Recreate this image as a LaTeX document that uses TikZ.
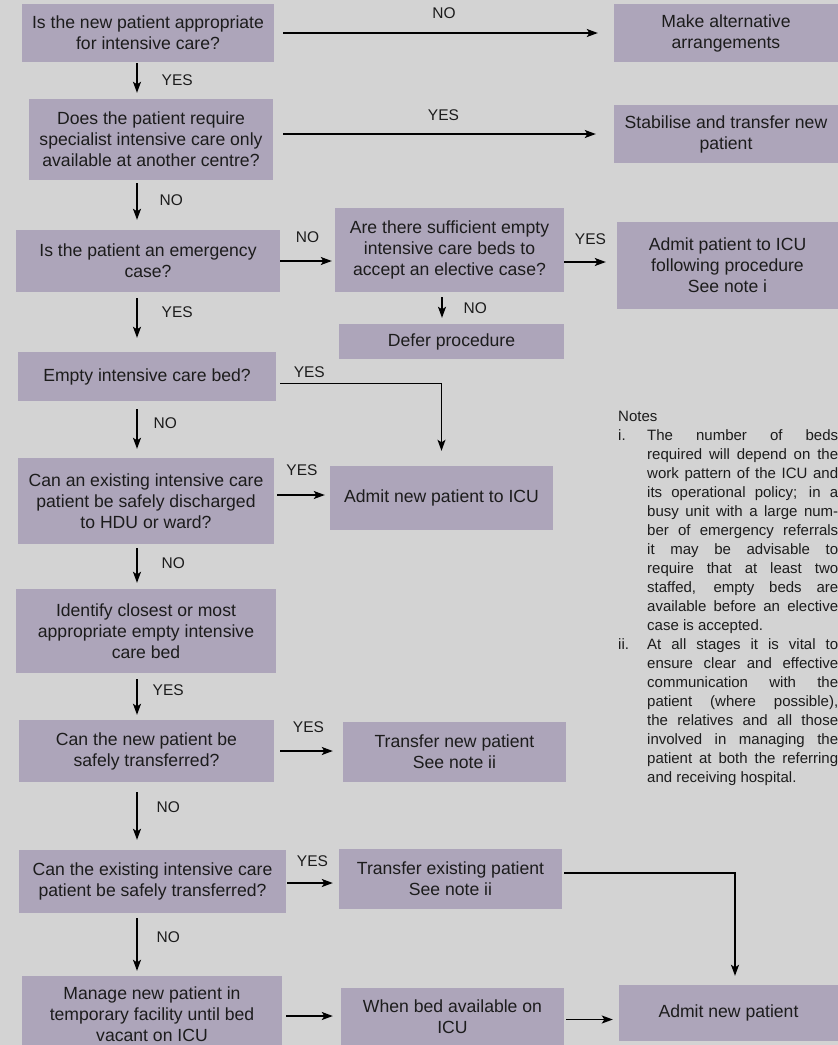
\documentclass[tikz,border=0pt]{standalone}
\usepackage{fontspec}
\setmainfont{Liberation Sans}
\usepackage{tikz}
\usetikzlibrary{arrows.meta, positioning, calc}
\definecolor{boxlilac}{RGB}{173, 165, 186}
\definecolor{pagegrey}{RGB}{211, 211, 211}
\definecolor{inkgrey}{RGB}{28, 28, 28}

\tikzset{
    flowbox/.style={fill=boxlilac, draw=none, text=inkgrey, align=center, inner sep=0pt,
                    font=\fontsize{17.6}{21}\selectfont},
    arr/.style={draw=black, line width=1.4pt, -{Stealth[length=11pt, width=8pt, inset=2.5pt]}},
    lbl/.style={text=inkgrey, inner sep=0pt, font=\fontsize{15.5}{18}\selectfont},
}

\begin{document}
\begin{tikzpicture}[x=1pt, y=-1pt]
    % Page
    \fill[pagegrey] (0,0) rectangle (838,1045);
    \useasboundingbox (0,0) rectangle (838,1045);
    \coordinate (spine) at (137,0);

    % Row 1: appropriate for intensive care?
    \node[flowbox, minimum width=252pt, minimum height=58pt] (appr) at (148,33)
        {Is the new patient appropriate\\for intensive care?};
    \node[flowbox, minimum width=224pt, minimum height=58pt] (alt) at (726,33)
        {Make alternative\\arrangements};

    % Row 2: specialist care elsewhere?
    \node[flowbox, minimum width=244pt, minimum height=81pt] (spec) at (151,139.5)
        {Does the patient require\\specialist intensive care only\\available at another centre?};
    \node[flowbox, minimum width=224pt, minimum height=58pt] (stab) at (726,134)
        {Stabilise and transfer new\\patient};

    % Row 3: emergency or elective
    \node[flowbox, minimum width=264pt, minimum height=62pt] (emerg) at (148,261)
        {Is the patient an emergency\\case?};
    \node[flowbox, minimum width=229pt, minimum height=84pt] (elect) at (449.5,250)
        {Are there sufficient empty\\intensive care beds to\\accept an elective case?};
    \node[flowbox, minimum width=221pt, minimum height=87pt] (admitproc) at (727.5,265.5)
        {Admit patient to ICU\\following procedure\\See note i};
    \node[flowbox, minimum width=225pt, minimum height=35pt] (defer) at (451.5,341.5)
        {Defer procedure};

    % Row 4-6: finding a bed
    \node[flowbox, minimum width=258pt, minimum height=49pt] (bed) at (147,376.5)
        {Empty intensive care bed?};
    \node[flowbox, minimum width=223pt, minimum height=64pt] (admitnew) at (441.5,498)
        {Admit new patient to ICU};
    \node[flowbox, minimum width=256pt, minimum height=86pt] (disch) at (146,501)
        {Can an existing intensive care\\patient be safely discharged\\to HDU or ward?};
    \node[flowbox, minimum width=260pt, minimum height=84pt] (ident) at (146,631)
        {Identify closest or most\\appropriate empty intensive\\care bed};

    % Row 7-9: transfers
    \node[flowbox, minimum width=255pt, minimum height=62pt] (trnewq) at (146.5,751)
        {Can the new patient be\\safely transferred?};
    \node[flowbox, minimum width=223pt, minimum height=60pt] (trnew) at (454.5,752)
        {Transfer new patient\\See note ii};
    \node[flowbox, minimum width=267pt, minimum height=63pt] (trexq) at (152.5,881.5)
        {Can the existing intensive care\\patient be safely transferred?};
    \node[flowbox, minimum width=223pt, minimum height=60pt] (trex) at (450.5,879)
        {Transfer existing patient\\See note ii};
    \node[flowbox, minimum width=260pt, minimum height=76pt] (manage) at (152,1014)
        {Manage new patient in\\temporary facility until bed\\vacant on ICU};
    \node[flowbox, minimum width=223pt, minimum height=57pt] (whenbed) at (452.5,1016.5)
        {When bed available on\\ICU};
    \node[flowbox, minimum width=219pt, minimum height=56pt] (final) at (728.5,1013)
        {Admit new patient};

    % Notes
    \node[anchor=north west, inner sep=0pt, text width=220pt, align=justify, text=inkgrey,
          font=\fontsize{15}{19}\selectfont] (notes) at (618,410.5) {%
        \tolerance=10000\hbadness=10000\noindent Notes\par
        \hangindent=29pt\hangafter=1\noindent\makebox[29pt][l]{i.}The number of beds\linebreak
        required will depend on the\linebreak work pattern of the ICU and\linebreak
        its operational policy; in a\linebreak busy unit with a large num-\linebreak
        ber of emergency referrals\linebreak it may be advisable to\linebreak
        require that at least two\linebreak staffed, empty beds are\linebreak
        available before an elective\linebreak case is accepted.\par
        \hangindent=29pt\hangafter=1\noindent\makebox[29pt][l]{ii.}At all stages it is vital to\linebreak
        ensure clear and effective\linebreak communication with the\linebreak
        patient (where possible),\linebreak the relatives and all those\linebreak
        involved in managing the\linebreak patient at both the referring\linebreak
        and receiving hospital.\par};

    % Spine arrows
    \draw[arr, shorten <=1pt, shorten >=6pt] (appr.south -| spine) -- (spec.north -| spine)
        node[lbl, midway, right=24pt] {YES};
    \draw[arr, shorten <=3pt, shorten >=10pt] (spec.south -| spine) -- (emerg.north -| spine)
        node[lbl, pos=0.4, right=22pt] {NO};
    \draw[arr, shorten <=6pt, shorten >=14pt] (emerg.south -| spine) -- (bed.north -| spine)
        node[lbl, pos=0.33, right=24pt] {YES};
    \draw[arr, shorten <=8pt, shorten >=9pt] (bed.south -| spine) -- (disch.north -| spine)
        node[lbl, pos=0.39, right=16pt] {NO};
    \draw[arr, shorten <=4pt, shorten >=6pt] (disch.south -| spine) -- (ident.north -| spine)
        node[lbl, pos=0.42, right=24pt] {NO};
    \draw[arr, shorten <=6pt, shorten >=5pt] (ident.south -| spine) -- (trnewq.north -| spine)
        node[lbl, pos=0.36, right=15pt] {YES};
    \draw[arr, shorten <=10pt, shorten >=10pt] (trnewq.south -| spine) -- (trexq.north -| spine)
        node[lbl, pos=0.37, right=19pt] {NO};
    \draw[arr, shorten <=5pt, shorten >=5pt] (trexq.south -| spine) -- (manage.north -| spine)
        node[lbl, pos=0.39, right=19pt] {NO};

    % Side arrows
    \draw[arr, shorten <=9pt, shorten >=16pt] (appr) -- (alt)
        node[lbl, midway, above=14pt] {NO};
    \draw[arr, shorten <=10pt, shorten >=18pt] (spec.east |- stab.west) -- (stab.west)
        node[lbl, midway, above=13pt] {YES};
    \draw[arr, shorten >=3pt] (emerg.east) -- (emerg.east -| elect.west)
        node[lbl, midway, above=18pt] {NO};
    \draw[arr, shorten >=11pt] ([yshift=-12pt]elect.east) -- ([yshift=-12pt]elect.east -| admitproc.west)
        node[lbl, midway, above=17pt] {YES};
    \draw[arr, shorten <=5pt, shorten >=6pt] ([xshift=-7.5pt]elect.south) -- ([xshift=-7.5pt]elect.south |- defer.north)
        node[lbl, midway, right=21pt] {NO};
    \draw[arr, shorten <=4pt, shorten >=15pt] ([yshift=-7pt]bed.east) -| (admitnew.north)
        node[lbl, pos=0.1, above=5pt] {YES};
    \draw[arr, shorten <=3pt, shorten >=5pt] ([yshift=6pt]disch.east) -- ([yshift=6pt]disch.east -| admitnew.west)
        node[lbl, midway, above=19pt] {YES};
    \draw[arr, shorten <=6pt, shorten >=10pt] (trnewq.east) -- (trnewq.east -| trnew.west)
        node[lbl, midway, above=18pt] {YES};
    \draw[arr, shorten <=1pt, shorten >=6pt] ([yshift=-1.5pt]trexq.east) -- ([yshift=-1.5pt]trexq.east -| trex.west)
        node[lbl, midway, above=16pt] {YES};
    \draw[arr, shorten <=2pt, shorten >=9pt] ([yshift=6pt]trex.east) -| ([xshift=6.5pt]final.north);
    \draw[arr, shorten <=4pt, shorten >=8pt] ([yshift=-2pt]manage.east) -- ([yshift=-2pt]manage.east -| whenbed.west);
    \draw[arr, shorten <=2pt, shorten >=6pt] ([yshift=-3pt]whenbed.east) -- ([yshift=-3pt]whenbed.east -| final.west);
\end{tikzpicture}
\end{document}
